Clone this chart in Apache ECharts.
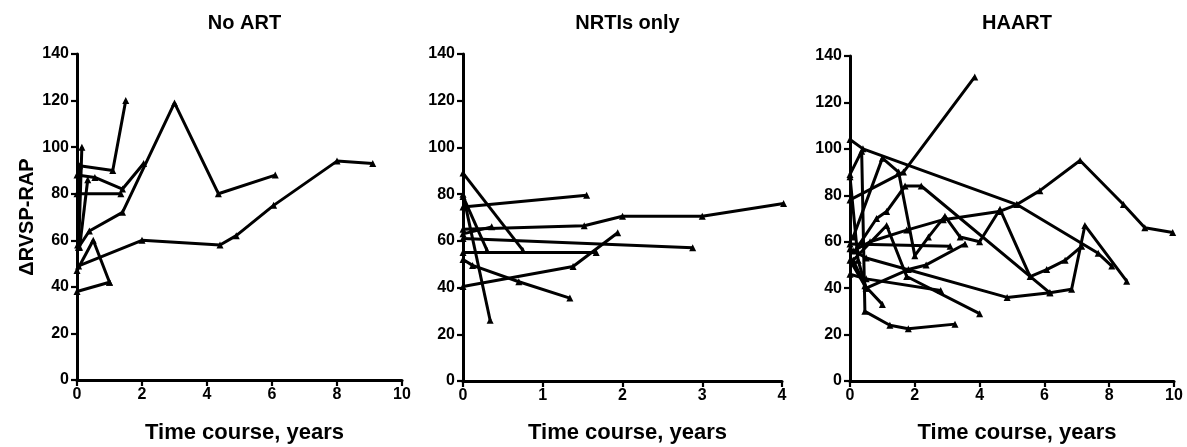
<!DOCTYPE html>
<html>
<head>
<meta charset="utf-8">
<script src="https://cdn.jsdelivr.net/npm/echarts@6/dist/echarts.min.js"></script>
<style>
html,body{margin:0;padding:0;background:#fff;}
#chart{width:1187px;height:447px;}
</style>
</head>
<body>
<div id="chart"></div>
<script>
// ---- Data (years, ΔRVSP-RAP) ----
const panelTitles = ["No ART", "NRTIs only", "HAART"];
const xAxisTitle = "Time course, years";
const yAxisTitle = "ΔRVSP-RAP";
const xMax = [10, 4, 10];
const xStep = [2, 1, 2];

const noArt = [
  [[0.05,49],[2,60],[4.4,58],[4.9,62],[6.05,75],[8,94],[9.1,93]],
  [[0.05,57],[0.38,64],[1.4,72],[3,119],[4.35,80],[6.1,88]],
  [[0,88],[0.55,87],[1.4,82],[2.05,93]],
  [[0.02,58],[0.08,92],[1.1,90],[1.5,120]],
  [[0,80],[1.35,80]],
  [[0.05,57],[0.15,100]],
  [[0.08,57],[0.33,86]],
  [[0,38],[1.0,42]],
  [[0,47],[0.5,60],[1.0,42]]
];

const nrti = [
  [[0,74.5],[1.55,79.5]],
  [[0,65],[1.52,66.5],[2.0,70.5],[3.0,70.5],[4.02,76]],
  [[0,61],[2.88,57]],
  [[0,89],[0.75,56]],
  [[0,55],[1.67,55]],
  [[0,40.5],[1.38,49],[1.94,63.5]],
  [[0,52],[0.12,49.5],[0.7,42.5],[1.34,35.5]],
  [[0,80],[0.34,26]],
  [[0,63],[0.36,66]],
  [[0,79],[0.3,56]]
];

const haart = [
  [[0,78],[1.65,90],[3.85,131]],
  [[0,104],[0.4,100],[5.15,76],[7.66,55],[8.08,49.5]],
  [[0.1,56],[0.62,60],[1.75,65],[2.88,69.5],[4.6,73],[5.15,76],[5.86,82],[7.1,95],[8.44,76],[9.1,66],[9.96,64]],
  [[0.1,62],[1.0,96],[1.5,90],[2.0,54],[2.42,62],[2.93,71],[3.4,62],[4.0,60],[4.63,74],[5.56,45],[6.07,48],[6.64,52],[7.15,58]],
  [[0.2,57],[0.82,70],[1.13,73],[1.7,84],[2.2,84],[6.17,38]],
  [[0,57],[0.5,53],[4.85,36],[6.17,38],[6.84,39.5],[7.25,67],[8.54,43]],
  [[0,59],[3.09,58]],
  [[0,89],[0.36,99],[0.46,30],[1.23,24],[1.8,22.5],[3.24,24.5]],
  [[0,52],[0.46,41],[1.0,33]],
  [[0,46],[0.5,44],[2.8,39]],
  [[0.1,52],[1.13,67],[1.75,45],[4.0,29]],
  [[0.1,52],[0.5,40],[1.8,48],[2.35,50],[3.55,59]],
  [[0,88],[0.25,52],[0.5,40]]
];

const panels = [noArt, nrti, haart];

// ---- Layout ----
const grids = [
  {left:77, top:54, width:325, height:326},
  {left:463, top:54, width:319, height:327},
  {left:850, top:56, width:324, height:325}
];
const FONT = "'Liberation Sans', Arial, Helvetica, sans-serif";

const option = {
  animation:false,
  backgroundColor:'#fff',
  title: [],
  grid: grids,
  xAxis: [],
  yAxis: [],
  series: []
};

grids.forEach((g,i)=>{
  const cx = g.left + g.width/2;
  option.title.push({
    text: panelTitles[i], left: cx, top: 8, textAlign:'center',
    textStyle:{fontFamily:FONT, fontWeight:'bold', fontSize:20, color:'#000'}
  });
  option.title.push({
    text: xAxisTitle, left: cx, top: 417, textAlign:'center',
    textStyle:{fontFamily:FONT, fontWeight:'bold', fontSize:22, color:'#000'}
  });
  option.xAxis.push({
    type:'value', gridIndex:i, min:0, max:xMax[i], interval:xStep[i],
    axisLine:{show:true, onZero:false, lineStyle:{color:'#000', width:3}},
    axisTick:{show:true, length:6, lineStyle:{color:'#000', width:2.2}},
    axisLabel:{fontFamily:FONT, fontWeight:'bold', fontSize:16, color:'#000', margin:7},
    splitLine:{show:false}
  });
  option.yAxis.push({
    type:'value', gridIndex:i, min:0, max:140, interval:20,
    name: i===0 ? yAxisTitle : '',
    nameLocation:'middle', nameGap:40, nameRotate:90,
    nameTextStyle:{fontFamily:FONT, fontWeight:'bold', fontSize:20, color:'#000'},
    axisLine:{show:true, onZero:false, lineStyle:{color:'#000', width:3}},
    axisTick:{show:true, length:6, lineStyle:{color:'#000', width:2.2}},
    axisLabel:{fontFamily:FONT, fontWeight:'bold', fontSize:16, color:'#000', margin:8},
    splitLine:{show:false}
  });
  panels[i].forEach(d=>{
    option.series.push({
      type:'line', xAxisIndex:i, yAxisIndex:i, data:d,
      symbol:'triangle', symbolSize:7, showSymbol:true,
      lineStyle:{color:'#000', width:3},
      itemStyle:{color:'#000'},
      silent:true, clip:false
    });
  });
});

const chart = echarts.init(document.getElementById('chart'), null, {renderer:'canvas'});
chart.setOption(option);
</script>
</body>
</html>
